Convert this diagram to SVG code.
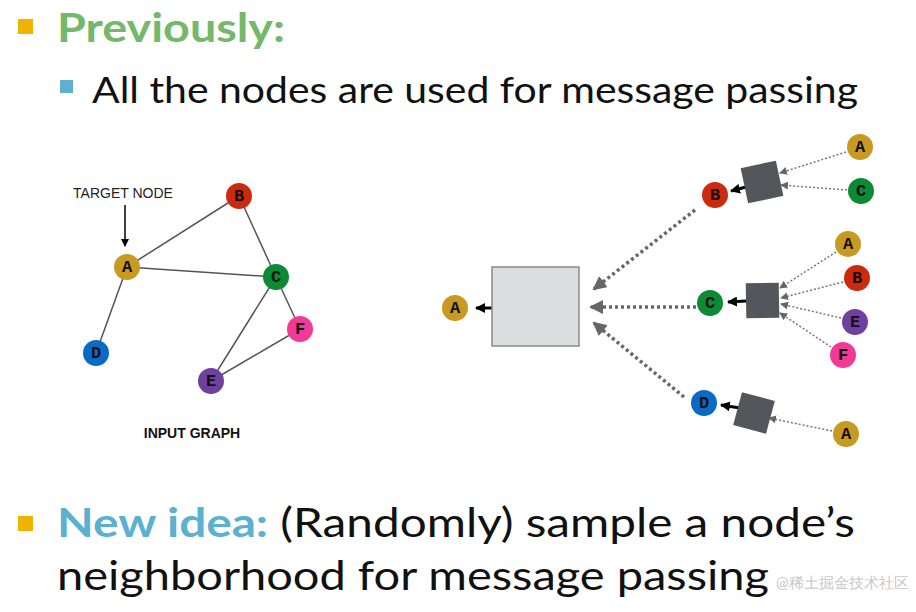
<svg xmlns="http://www.w3.org/2000/svg" width="916" height="612" viewBox="0 0 916 612">
<defs>
<style>
.t{font-family:Lato,"Liberation Sans",sans-serif}
.lb{font-family:"Liberation Mono","Courier New","DejaVu Sans Mono",monospace;font-weight:bold;font-size:17px;text-anchor:middle;fill:#111}
.e{stroke:#555;stroke-width:1.5}
.dot{stroke:#666;stroke-width:3.5;stroke-dasharray:3 3;fill:none}
.thin{stroke:#777;stroke-width:1.5;stroke-dasharray:2 2;fill:none}
.sq{fill:#54565b}
</style>
<marker id="bk" markerWidth="10" markerHeight="10" refX="9" refY="5" orient="auto" markerUnits="userSpaceOnUse"><path d="M0,0L10,5L0,10Z" fill="#000"/></marker>
<marker id="gr" markerWidth="8" markerHeight="8" refX="7" refY="4" orient="auto" markerUnits="userSpaceOnUse"><path d="M0,0L8,4L0,8Z" fill="#666"/></marker>
<marker id="gs" markerWidth="14" markerHeight="14" refX="12" refY="7" orient="auto" markerUnits="userSpaceOnUse"><path d="M0,0L14,7L0,14Z" fill="#666"/></marker>
<marker id="tg" markerWidth="8" markerHeight="8" refX="7" refY="4" orient="auto" markerUnits="userSpaceOnUse"><path d="M0,0L8,4L0,8Z" fill="#000"/></marker>
</defs>
<rect width="916" height="612" fill="#fff"/>
<rect x="18" y="19" width="15" height="15" fill="#f0b400"/>
<text class="t" x="57" y="42" font-size="41" font-weight="bold" fill="#74b86a" textLength="228" lengthAdjust="spacingAndGlyphs">Previously:</text>
<rect x="60" y="80" width="13" height="13" fill="#5bb1cf"/>
<text class="t" x="92" y="103" font-size="37" fill="#111" textLength="766" lengthAdjust="spacingAndGlyphs">All the nodes are used for message passing</text>
<rect x="18" y="516" width="15" height="15" fill="#f0b400"/>
<text class="t" x="57" y="537" font-size="40" fill="#111" textLength="798" lengthAdjust="spacingAndGlyphs"><tspan font-weight="bold" fill="#5bb1cf">New idea:</tspan> (Randomly) sample a node’s</text>
<text class="t" x="57" y="590" font-size="40" fill="#111" textLength="712" lengthAdjust="spacingAndGlyphs">neighborhood for message passing</text>
<text class="t" x="776" y="588" font-size="15" fill="#bbb" opacity="0.8">@稀土掘金技术社区</text>

<g id="edges">
<line class="e" x1="127" y1="267" x2="239" y2="196"/>
<line class="e" x1="127" y1="267" x2="276" y2="277"/>
<line class="e" x1="127" y1="267" x2="96" y2="353"/>
<line class="e" x1="239" y1="196" x2="276" y2="277"/>
<line class="e" x1="276" y1="277" x2="300" y2="329"/>
<line class="e" x1="276" y1="277" x2="211" y2="381"/>
<line class="e" x1="300" y1="329" x2="211" y2="381"/>
<line x1="125" y1="205" x2="125" y2="246" stroke="#000" stroke-width="1.5" marker-end="url(#tg)"/>
</g>
<text x="123" y="198" font-size="14" text-anchor="middle" fill="#222" font-family="Liberation Sans,sans-serif">TARGET NODE</text>
<text x="192" y="438" font-size="14" font-weight="bold" text-anchor="middle" fill="#111" font-family="Liberation Sans,sans-serif">INPUT GRAPH</text>
<g id="gA"><circle cx="127" cy="267" r="13" fill="#c89a22"/><text class="lb" x="127" y="272">A</text></g>
<g id="gB"><circle cx="239" cy="196" r="13" fill="#cc2a0e"/><text class="lb" x="239" y="201">B</text></g>
<g id="gC"><circle cx="276" cy="277" r="13" fill="#0c8a34"/><text class="lb" x="276" y="282">C</text></g>
<g id="gD"><circle cx="96" cy="353" r="13" fill="#0a6bc6"/><text class="lb" x="96" y="358">D</text></g>
<g id="gE"><circle cx="211" cy="381" r="13" fill="#7040a0"/><text class="lb" x="211" y="386">E</text></g>
<g id="gF"><circle cx="300" cy="329" r="13" fill="#f03a96"/><text class="lb" x="300" y="334">F</text></g>

<g id="connectors">
<line x1="492" y1="308" x2="476" y2="308" stroke="#000" stroke-width="3" marker-end="url(#bk)"/>
<line class="dot" x1="695" y1="210" x2="594" y2="289" marker-end="url(#gs)"/>
<line class="dot" x1="696" y1="307" x2="591" y2="307" marker-end="url(#gs)"/>
<line class="dot" x1="684" y1="397" x2="594" y2="323" marker-end="url(#gs)"/>
<line x1="746" y1="187" x2="731" y2="191" stroke="#000" stroke-width="3" marker-end="url(#bk)"/>
<line x1="746" y1="301" x2="728" y2="302" stroke="#000" stroke-width="3" marker-end="url(#bk)"/>
<line x1="740" y1="408" x2="721" y2="405" stroke="#000" stroke-width="3" marker-end="url(#bk)"/>
<line class="thin" x1="846" y1="152" x2="780" y2="173" marker-end="url(#gr)"/>
<line class="thin" x1="847" y1="190" x2="781" y2="185" marker-end="url(#gr)"/>
<line class="thin" x1="836" y1="252" x2="780" y2="288" marker-end="url(#gr)"/>
<line class="thin" x1="843" y1="282" x2="781" y2="298" marker-end="url(#gr)"/>
<line class="thin" x1="841" y1="318" x2="781" y2="304" marker-end="url(#gr)"/>
<line class="thin" x1="831" y1="347" x2="780" y2="313" marker-end="url(#gr)"/>
<line class="thin" x1="832" y1="431" x2="769" y2="418" marker-end="url(#gr)"/>
</g>

<rect id="box" x="492" y="267" width="87" height="79" fill="#dcdddf" stroke="#888" stroke-width="1.5"/>
<rect id="sqB" class="sq" x="744" y="164" width="36" height="36" transform="rotate(-12 762 182)"/>
<rect id="sqC" class="sq" x="746" y="283" width="33" height="35" transform="rotate(-1 762 300)"/>
<rect id="sqD" class="sq" x="737" y="396" width="34" height="34" transform="rotate(15 754 413)"/>

<g id="rA"><circle cx="455" cy="308" r="13" fill="#c89a22"/><text class="lb" x="455" y="313">A</text></g>
<g id="rB"><circle cx="715" cy="195" r="13" fill="#cc2a0e"/><text class="lb" x="715" y="200">B</text></g>
<g id="rC"><circle cx="710" cy="303" r="13" fill="#0c8a34"/><text class="lb" x="710" y="308">C</text></g>
<g id="rD"><circle cx="704" cy="403" r="13" fill="#0a6bc6"/><text class="lb" x="704" y="408">D</text></g>
<g id="bA"><circle cx="860" cy="147" r="13" fill="#c89a22"/><text class="lb" x="860" y="152">A</text></g>
<g id="bC"><circle cx="861" cy="191" r="13" fill="#0c8a34"/><text class="lb" x="861" y="196">C</text></g>
<g id="cA"><circle cx="848" cy="244" r="13" fill="#c89a22"/><text class="lb" x="848" y="249">A</text></g>
<g id="cB"><circle cx="857" cy="278" r="13" fill="#cc2a0e"/><text class="lb" x="857" y="283">B</text></g>
<g id="cE"><circle cx="855" cy="322" r="13" fill="#7040a0"/><text class="lb" x="855" y="327">E</text></g>
<g id="cF"><circle cx="843" cy="355" r="13" fill="#f03a96"/><text class="lb" x="843" y="360">F</text></g>
<g id="dA"><circle cx="846" cy="434" r="13" fill="#c89a22"/><text class="lb" x="846" y="439">A</text></g>
</svg>
